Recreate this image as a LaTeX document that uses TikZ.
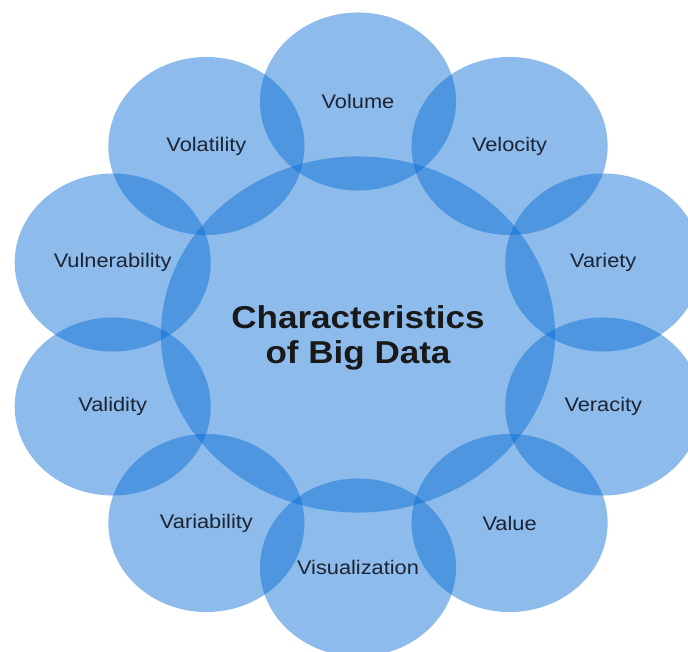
\documentclass[tikz,border=0pt]{standalone}
\usepackage{fontspec}
\setmainfont{Liberation Sans}
\usetikzlibrary{shapes.geometric}
\definecolor{ringblue}{RGB}{2,104,211}
\definecolor{labelnavy}{RGB}{28,36,52}
\begin{document}
\begin{tikzpicture}[x=0.025cm,y=0.025cm,
    bubble/.style={ellipse, fill=ringblue, fill opacity=0.45, inner sep=0pt,
      minimum width=4.9cm, minimum height=4.45cm},
    hub/.style={bubble, minimum width=9.85cm, minimum height=8.9cm},
    word/.style={text=labelnavy, font=\fontsize{14}{16}\selectfont, xscale=1.107}]
    \useasboundingbox (-358,-316.5) rectangle (330,334.5);% frame of the page
    \node[hub] (core) at (0,0) {};
    \foreach \name [count=\i] in {Volume,Velocity,Variety,Veracity,Value,
        Visualization,Variability,Validity,Vulnerability,Volatility}{% ring of ten
      \node[bubble] (b\i) at ({126-36*\i}:257.9 and 233) {};}
    \foreach \name [count=\i] in {Volume,Velocity,Variety,Veracity,Value,
        Visualization,Variability,Validity,Vulnerability,Volatility}{% words on top
      \node[word] (w\i) at (b\i.center) {\name};}
    \node[text=black!90, font=\bfseries\fontsize{22.5}{25}\selectfont, align=center,
      xscale=1.107] (title) at ([yshift=-0.075cm]core.center) {Characteristics\\of Big Data};
  \end{tikzpicture}
\end{document}
